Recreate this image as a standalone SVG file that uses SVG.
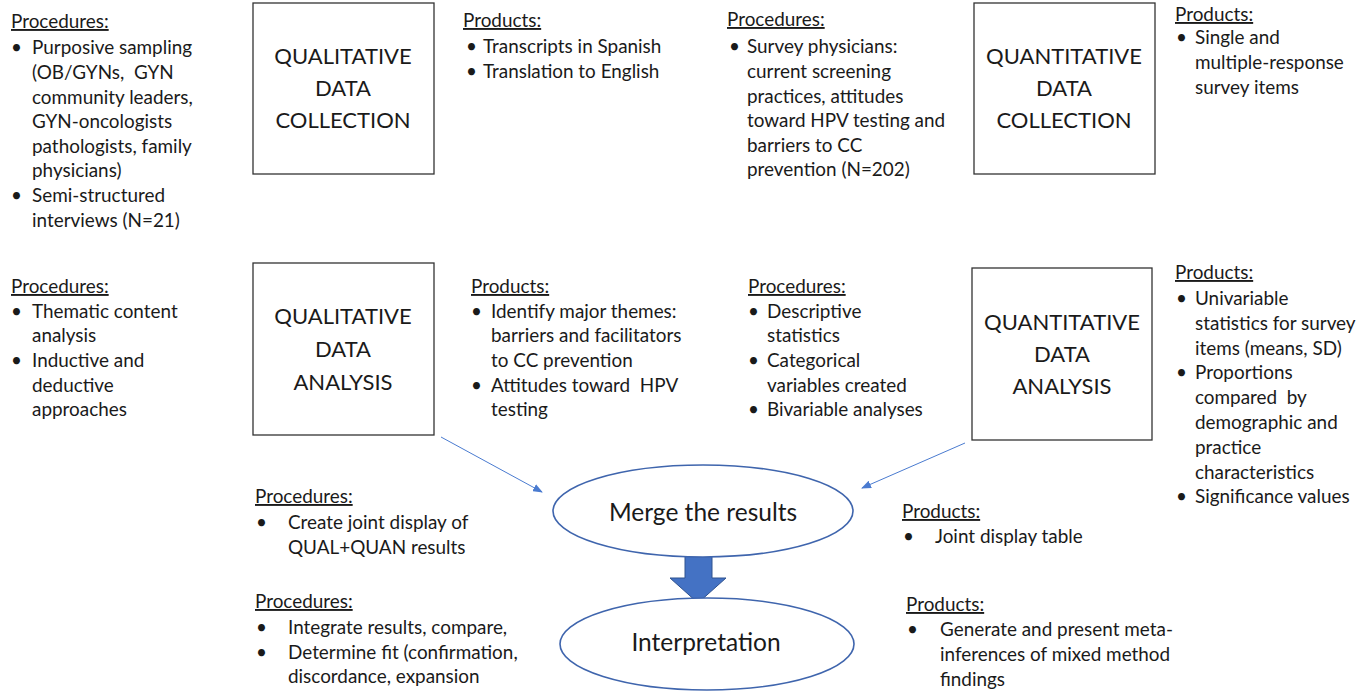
<svg xmlns="http://www.w3.org/2000/svg" width="1371" height="692" viewBox="0 0 1371 692">
<style>
text{font-family:Lato,"Open Sans","Liberation Sans",sans-serif;fill:#1a1a1a;font-size:18.9px;white-space:pre}
.h{text-decoration:underline}
.box{fill:#fff;stroke:#333;stroke-width:1.3}
.bt{font-size:22px;text-anchor:middle}
.ell{fill:#fff;stroke:#3f65ad;stroke-width:1.6}
.et{font-size:24.5px;text-anchor:middle}
.con{stroke:#4a7bd0;stroke-width:1;fill:none}
</style>
<defs>
<marker id="ah" markerWidth="10" markerHeight="8" refX="9" refY="4" orient="auto" markerUnits="userSpaceOnUse">
<path d="M0,0 L10,4 L0,8 z" fill="#4a7bd0"/>
</marker>
</defs>
<rect width="1371" height="692" fill="#fff"/>

<g id="connectors">
<line class="con" x1="441" y1="437" x2="542" y2="492" marker-end="url(#ah)"/>
<line class="con" x1="965" y1="443" x2="862" y2="488" marker-end="url(#ah)"/>
<path d="M685,555 H712 V578 H726 L698,603 L670,578 H685 Z" fill="#4472c4" stroke="#2f528f" stroke-width="1"/>
</g>

<g id="qual-collection-procedures">
<text class="h" x="11" y="28">Procedures:</text>
<text x="11" y="54">•</text><text x="32" y="54">Purposive sampling</text>
<text x="32" y="79">(OB/GYNs,  GYN</text>
<text x="32" y="104">community leaders,</text>
<text x="32" y="128">GYN-oncologists</text>
<text x="32" y="153">pathologists, family</text>
<text x="32" y="177">physicians)</text>
<text x="11" y="202">•</text><text x="32" y="202">Semi-structured</text>
<text x="32" y="227">interviews (N=21)</text>
</g>

<g id="qual-collection">
<rect class="box" x="253" y="3" width="181" height="171"/>
<text class="bt" x="343" y="64">QUALITATIVE</text>
<text class="bt" x="343" y="96">DATA</text>
<text class="bt" x="343" y="128">COLLECTION</text>
</g>

<g id="qual-collection-products">
<text class="h" x="463" y="27">Products:</text>
<text x="466" y="53">•</text><text x="483" y="53">Transcripts in Spanish</text>
<text x="466" y="78">•</text><text x="483" y="78">Translation to English</text>
</g>

<g id="quan-collection-procedures">
<text class="h" x="727" y="26">Procedures:</text>
<text x="729" y="53">•</text><text x="747" y="53">Survey physicians:</text>
<text x="747" y="78">current screening</text>
<text x="747" y="103">practices, attitudes</text>
<text x="747" y="127">toward HPV testing and</text>
<text x="747" y="152">barriers to CC</text>
<text x="747" y="176">prevention (N=202)</text>
</g>

<g id="quan-collection">
<rect class="box" x="974" y="3" width="181" height="171"/>
<text class="bt" x="1064" y="64">QUANTITATIVE</text>
<text class="bt" x="1064" y="96">DATA</text>
<text class="bt" x="1064" y="128">COLLECTION</text>
</g>

<g id="quan-collection-products">
<text class="h" x="1175" y="21">Products:</text>
<text x="1176" y="44">•</text><text x="1195" y="44">Single and</text>
<text x="1195" y="69">multiple-response</text>
<text x="1195" y="94">survey items</text>
</g>

<g id="qual-analysis-procedures">
<text class="h" x="11" y="293">Procedures:</text>
<text x="11" y="318">•</text><text x="32" y="318">Thematic content</text>
<text x="32" y="342">analysis</text>
<text x="11" y="367">•</text><text x="32" y="367">Inductive and</text>
<text x="32" y="392">deductive</text>
<text x="32" y="416">approaches</text>
</g>

<g id="qual-analysis">
<rect class="box" x="253" y="263" width="181" height="172"/>
<text class="bt" x="343" y="324">QUALITATIVE</text>
<text class="bt" x="343" y="357">DATA</text>
<text class="bt" x="343" y="390">ANALYSIS</text>
</g>

<g id="qual-analysis-products">
<text class="h" x="471" y="293">Products:</text>
<text x="471" y="318">•</text><text x="491" y="318">Identify major themes:</text>
<text x="491" y="342">barriers and facilitators</text>
<text x="491" y="367">to CC prevention</text>
<text x="471" y="392">•</text><text x="491" y="392">Attitudes toward  HPV</text>
<text x="491" y="416">testing</text>
</g>

<g id="quan-analysis-procedures">
<text class="h" x="748" y="293">Procedures:</text>
<text x="748" y="318">•</text><text x="767" y="318">Descriptive</text>
<text x="767" y="342">statistics</text>
<text x="748" y="367">•</text><text x="767" y="367">Categorical</text>
<text x="767" y="392">variables created</text>
<text x="748" y="416">•</text><text x="767" y="416">Bivariable analyses</text>
</g>

<g id="quan-analysis">
<rect class="box" x="972" y="268" width="180" height="172"/>
<text class="bt" x="1062" y="330">QUANTITATIVE</text>
<text class="bt" x="1062" y="362">DATA</text>
<text class="bt" x="1062" y="394">ANALYSIS</text>
</g>

<g id="quan-analysis-products">
<text class="h" x="1175" y="279">Products:</text>
<text x="1176" y="305">•</text><text x="1195" y="305">Univariable</text>
<text x="1195" y="330">statistics for survey</text>
<text x="1195" y="355">items (means, SD)</text>
<text x="1176" y="379">•</text><text x="1195" y="379">Proportions</text>
<text x="1195" y="404">compared  by</text>
<text x="1195" y="429">demographic and</text>
<text x="1195" y="454">practice</text>
<text x="1195" y="479">characteristics</text>
<text x="1176" y="503">•</text><text x="1195" y="503">Significance values</text>
</g>

<g id="merge">
<ellipse class="ell" cx="703" cy="511" rx="150" ry="46"/>
<text class="et" x="703" y="521">Merge the results</text>
</g>

<g id="merge-procedures">
<text class="h" x="255" y="503">Procedures:</text>
<text x="256" y="529">•</text><text x="288" y="529">Create joint display of</text>
<text x="288" y="554">QUAL+QUAN results</text>
</g>

<g id="merge-products">
<text class="h" x="902" y="518">Products:</text>
<text x="903" y="543">•</text><text x="935" y="543">Joint display table</text>
</g>

<g id="interpretation">
<ellipse class="ell" cx="707" cy="644" rx="147" ry="46"/>
<text class="et" x="706" y="651">Interpretation</text>
</g>

<g id="interpretation-procedures">
<text class="h" x="255" y="608">Procedures:</text>
<text x="256" y="634">•</text><text x="288" y="634">Integrate results, compare,</text>
<text x="256" y="659">•</text><text x="288" y="659">Determine fit (confirmation,</text>
<text x="288" y="683">discordance, expansion</text>
</g>

<g id="interpretation-products">
<text class="h" x="906" y="611">Products:</text>
<text x="907" y="636">•</text><text x="940" y="636">Generate and present meta-</text>
<text x="940" y="661">inferences of mixed method</text>
<text x="940" y="686">findings</text>
</g>
</svg>
